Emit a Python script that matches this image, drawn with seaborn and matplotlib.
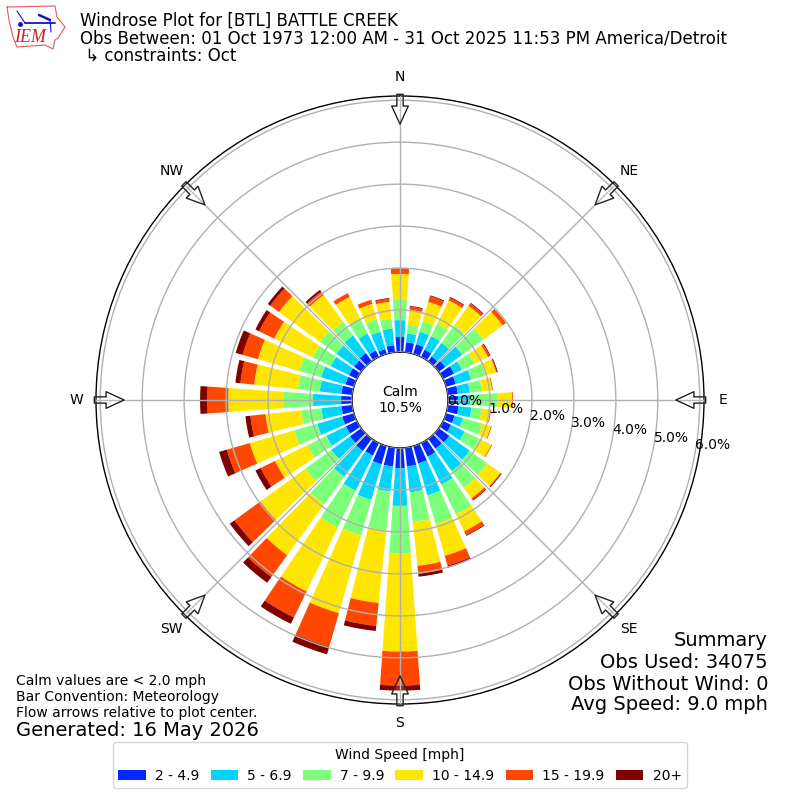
import numpy as np
import pandas as pd
import matplotlib
matplotlib.use('Agg')
import matplotlib.pyplot as plt
import seaborn as sns

# --- data: percent of obs per direction, one list per speed bin ---
directions = list(range(0, 360, 10))
speed_labels = ['2 - 4.9', '5 - 6.9', '7 - 9.9', '10 - 14.9', '15 - 19.9', '20+']
speed_colors = ['#0028ff', '#00d4ff', '#7cff79', '#ffe600', '#ff4700', '#800000']

bin_2_5 = [.36, .24, .24, .19, .14, .19, .29, .24, .24, .24, .26, .21,
           .21, .31, .29, .36, .43, .45, .48, .45, .45, .33, .36, .33,
           .29, .29, .26, .26, .26, .21, .21, .21, .24, .17, .12, .17]
bin_5_7 = [.40, .21, .31, .36, .40, .50, .21, .38, .29, .29, .31, .21,
           .36, .60, .67, .74, .79, .62, .90, .60, .88, .93, .76, .55,
           .52, .62, .48, .67, .52, .60, .48, .52, .52, .45, .43, .40]
bin_7_10 = [.48, .21, .26, .33, .52, .62, .33, .36, .29, .64, .24, .48,
            .40, .52, .48, .79, .71, .71, 1.14, .93, .88, .98, .81, .76,
            .50, .57, .48, .71, .52, .55, .48, .48, .40, .40, .31, .24]
bin_10_15 = [.62, .36, .48, .62, .57, .57, .36, .26, .24, .36, .21, .21,
             .31, .38, .31, .45, .79, 1.05, 2.33, 1.74, 1.93, 1.69, 1.50, 1.33,
             .86, 1.10, .86, 1.31, 1.05, 1.02, 1.02, 1.21, .79, .57, .38, .40]
bin_15_20 = [.14, .07, .14, .07, .07, .10, .05, .02, .02, .02, .02, .02,
             .02, .02, .05, .10, .24, .19, .81, .55, .83, .69, .64, .76,
             .38, .57, .36, .50, .33, .38, .40, .26, .10, .10, .10, .07]
bin_20 = [0, .02, .02, .02, .02, 0, .02, .02, 0, 0, 0, 0,
          0, .02, .02, .02, .05, .07, .12, .12, .19, .17, .17, .14,
          .14, .19, .12, .17, .12, .17, .10, .07, .05, 0, 0, .02]
speed_bins = [bin_2_5, bin_5_7, bin_7_10, bin_10_15, bin_15_20, bin_20]

compass = ['N', 'NE', 'E', 'SE', 'S', 'SW', 'W', 'NW']
ring_values = [0, 1, 2, 3, 4, 5, 6]
summary_lines = ['Summary', 'Obs Used: 34075', 'Obs Without Wind: 0', 'Avg Speed: 9.0 mph']

sns.set_theme(style='white', font='DejaVu Sans',
              rc={'axes.linewidth': 1.0, 'text.color': 'black', 'xtick.color': 'black',
                  'ytick.color': 'black', 'axes.labelcolor': 'black'})
plt.rcParams['font.family'] = ['DejaVu Sans']

fig = plt.figure(figsize=(8, 8), dpi=100)
ax = fig.add_axes([0.12, 0.12, 0.76, 0.76], projection='polar')
ax.set_theta_zero_location('N')
ax.set_theta_direction(-1)

# --- stacked bars through seaborn, native scale keeps the radian positions ---
df = pd.DataFrame({'theta': np.deg2rad(directions)})
bottom = np.zeros(len(directions))
for vals, color, label in zip(speed_bins, speed_colors, speed_labels):
    df['freq'] = vals
    sns.barplot(data=df, x='theta', y='freq', native_scale=True, width=0.8,
                bottom=bottom, color=color, saturation=1, errorbar=None,
                linewidth=0, ax=ax, label=label)
    bottom = bottom + np.array(vals)

ax.set_xlabel('')
ax.set_ylabel('')
ax.legend_.remove()
ax.set_xlim(0, 2 * np.pi)
ax.set_rorigin(-1.143)
ax.set_ylim(0, 6.1)
ax.set_axisbelow(False)
ax.grid(True, color='#b0b0b0', lw=1)
ax.spines['inner'].set_visible(True)
ax.spines['inner'].set_color('black')
ax.spines['polar'].set_color('black')

ax.set_thetagrids(np.arange(0, 360, 45), compass)
ax.tick_params(axis='x', pad=1, labelsize=10)
ax.set_rgrids(ring_values, [f'{v:.1f}%' for v in ring_values])
ax.set_rlabel_position(100)
ax.tick_params(axis='y', labelsize=10)

# flow arrows, pointing at plot center
for ang in np.arange(0, 360, 45):
    th = np.deg2rad(ang)
    ax.annotate('', xy=(th, 5.43), xytext=(th, 6.14), annotation_clip=False,
                arrowprops=dict(facecolor=(1, 1, 1, 0.15), edgecolor='#222222', lw=1,
                                width=4.5, headwidth=12, headlength=13, shrink=0))

ax.text(0.5, 0.5, 'Calm\n10.5%', transform=ax.transAxes, ha='center', va='center', fontsize=10)

# --- header ---
fig.text(0.10, 0.9735, 'Windrose Plot for [BTL] BATTLE CREEK', fontsize=12, va='center')
fig.text(0.10, 0.9515, 'Obs Between: 01 Oct 1973 12:00 AM - 31 Oct 2025 11:53 PM America/Detroit', fontsize=12, va='center')
fig.text(0.10, 0.930, ' \u21b3 constraints: Oct', fontsize=12, va='center')

# --- footers ---
for line, ypx in zip(summary_lines, [640, 662, 684, 705]):
    fig.text(0.96, 1 - ypx / 800, line, ha='right', va='center', fontsize=14)
fig.text(0.02, 0.1, 'Calm values are < 2.0 mph\nBar Convention: Meteorology\nFlow arrows relative to plot center.',
         ha='left', va='bottom', fontsize=10)
fig.text(0.02, 0.0875, 'Generated: 16 May 2026', ha='left', va='center', fontsize=14)

handles = [c for c in ax.containers]
fig.legend(handles, speed_labels, title='Wind Speed [mph]', ncol=6, loc='lower center',
           bbox_to_anchor=(0.5, 0.006), fontsize=10, title_fontsize=10, frameon=True,
           edgecolor='#cccccc', handletextpad=0.65, columnspacing=0.8)

# --- small IEM logo, hand traced state outline ---
logo_x = [7, 55, 57, 65, 58, 55, 53, 45, 17, 13, 9, 7]
logo_y = [7, 6, 17, 27, 38, 40, 49, 45, 47, 37, 20, 7]
logo = fig.add_axes([0, 1 - 0.0675, 0.09, 0.0675])
logo.plot(logo_x, logo_y, color='#e8585a', lw=0.8)
logo.plot([25, 55], [23, 23], color='#1010d0', lw=1.3)
logo.plot([17, 25], [11, 23], color='#1010d0', lw=0.8)
logo.plot([39, 50], [15, 20], color='#1010d0', lw=1.8)
logo.plot([50, 51], [20, 32], color='#1010d0', lw=0.8)
logo.plot([20], [24], 'o', color='#1010d0', ms=2.5)
logo.text(30, 38, 'IEM', color='#d02020', fontsize=13, family='Liberation Serif', style='italic', ha='center', va='center')
logo.set_xlim(0, 72)
logo.set_ylim(54, 0)
logo.axis('off')

fig.savefig('out.png', dpi=100)
